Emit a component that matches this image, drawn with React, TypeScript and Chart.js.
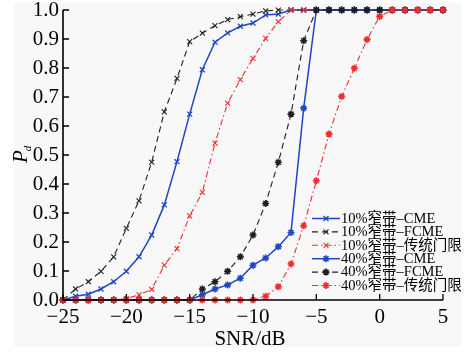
import React, { useEffect, useRef } from "react";
import { Chart, registerables } from "chart.js";

Chart.register(...registerables);

const snrDb = [-25, -24, -23, -22, -21, -20, -19, -18, -17, -16, -15, -14, -13, -12, -11, -10, -9, -8, -7, -6, -5, -4, -3, -2, -1, 0, 1, 2, 3, 4, 5];

const cme10 = [0, 0.013, 0.02, 0.038, 0.063, 0.099, 0.149, 0.224, 0.328, 0.477, 0.641, 0.794, 0.889, 0.921, 0.944, 0.955, 0.983, 0.986, 1, 1, 1, 1, 1, 1, 1, 1, 1, 1, 1, 1, 1];
const fcme10 = [0, 0.038, 0.063, 0.099, 0.149, 0.247, 0.342, 0.475, 0.649, 0.764, 0.891, 0.92, 0.946, 0.967, 0.977, 0.986, 0.997, 1, 1, 1, 1, 1, 1, 1, 1, 1, 1, 1, 1, 1, 1];
const thr10 = [0, 0, 0, 0, 0, 0.005, 0.018, 0.037, 0.12, 0.177, 0.29, 0.371, 0.541, 0.679, 0.76, 0.833, 0.902, 0.96, 1, 1, 1, 1, 1, 1, 1, 1, 1, 1, 1, 1, 1];
const cme40 = [0, 0, 0, 0, 0, 0, 0, 0, 0, 0, 0, 0.018, 0.038, 0.052, 0.075, 0.12, 0.145, 0.184, 0.233, 0.661, 1, 1, 1, 1, 1, 1, 1, 1, 1, 1, 1];
const fcme40 = [0, 0, 0, 0, 0, 0, 0, 0, 0, 0, 0, 0.038, 0.063, 0.099, 0.149, 0.224, 0.333, 0.475, 0.641, 0.894, 1, 1, 1, 1, 1, 1, 1, 1, 1, 1, 1];
const thr40 = [0, 0, 0, 0, 0, 0, 0, 0, 0, 0, 0, 0, 0, 0, 0, 0, 0.013, 0.046, 0.124, 0.256, 0.411, 0.572, 0.702, 0.799, 0.898, 0.978, 1, 1, 1, 1, 1];

const seriesNames = [
  "10%窄带–CME",
  "10%窄带–FCME",
  "10%窄带–传统门限",
  "40%窄带–CME",
  "40%窄带–FCME",
  "40%窄带–传统门限",
];
const xTickValues = [-25, -20, -15, -10, -5, 0, 5];
const xTitle = "SNR/dB";

const BLUE = "#2046c2";
const BLACK = "#1e1e1e";
const RED = "#f02c2c";
const SERIF = '"Liberation Serif", "Times New Roman", serif';
const LEGEND_FONT = '14.5px "Liberation Serif", "Noto Sans CJK SC", serif';

const styles = [
  { color: BLUE, dash: [] as number[], width: 1.5, point: "crossRot", pw: 1.3 },
  { color: BLACK, dash: [6, 4], width: 1.1, point: "crossRot", pw: 1.1 },
  { color: RED, dash: [6, 3, 1.5, 3], width: 1.1, point: "crossRot", pw: 1.1 },
  { color: BLUE, dash: [] as number[], width: 1.5, point: "star", pw: 1.6 },
  { color: BLACK, dash: [6, 4], width: 1.1, point: "star", pw: 1.6 },
  { color: RED, dash: [6, 3, 1.5, 3], width: 1.1, point: "star", pw: 1.6 },
];

const seriesValues = [cme10, fcme10, thr10, cme40, fcme40, thr40];

const bgPlugin = {
  id: "bgPlugin",
  beforeDraw(chart: any) {
    const ctx = chart.ctx;
    ctx.save();
    ctx.fillStyle = "#ffffff";
    ctx.fillRect(0, 0, chart.width, chart.height);
    ctx.fillStyle = "#f8f8f8";
    ctx.fillRect(14, 3, 448, 344);
    ctx.restore();
  },
};

const axesPlugin = {
  id: "axesPlugin",
  afterDatasetsDraw(chart: any) {
    const { ctx, chartArea, scales } = chart;
    const { left, right, top, bottom } = chartArea;
    ctx.save();
    ctx.strokeStyle = "#000";
    ctx.lineWidth = 1.6;
    ctx.setLineDash([]);
    ctx.beginPath();
    ctx.moveTo(left, top);
    ctx.lineTo(left, bottom);
    ctx.lineTo(right, bottom);
    ctx.stroke();
    ctx.lineWidth = 1.3;
    ctx.beginPath();
    scales.y.ticks.forEach((t: any) => {
      const py = scales.y.getPixelForValue(t.value);
      ctx.moveTo(left, py);
      ctx.lineTo(left + 6, py);
    });
    scales.x.ticks.forEach((t: any) => {
      const px = scales.x.getPixelForValue(t.value);
      ctx.moveTo(px, bottom);
      ctx.lineTo(px, bottom - 6);
    });
    ctx.stroke();
    ctx.restore();
  },
};

const decorPlugin = {
  id: "decorPlugin",
  afterDraw(chart: any) {
    const { ctx, chartArea } = chart;
    ctx.save();
    // x title
    ctx.fillStyle = "#000";
    ctx.font = `21px ${SERIF}`;
    ctx.textAlign = "center";
    ctx.textBaseline = "alphabetic";
    ctx.fillText(xTitle, (chartArea.left + chartArea.right) / 2 - 3, 345);
    // y title: P_d
    ctx.save();
    ctx.translate(27, 163);
    ctx.rotate(-Math.PI / 2);
    ctx.textAlign = "left";
    ctx.font = `italic 21px ${SERIF}`;
    ctx.fillText("P", 0, 0);
    const pw = ctx.measureText("P").width;
    ctx.font = `italic 11px ${SERIF}`;
    ctx.fillText("d", pw - 1, 4);
    ctx.restore();
    // legend
    const x0 = 312;
    const x1 = 340;
    const ys0 = 218.5;
    const dy = 13.4;
    chart.data.datasets.forEach((ds: any, i: number) => {
      const st = styles[i];
      const yy = ys0 + dy * i;
      ctx.strokeStyle = st.color;
      ctx.lineWidth = st.width;
      ctx.setLineDash(st.dash);
      ctx.beginPath();
      ctx.moveTo(x0, yy);
      ctx.lineTo(x1, yy);
      ctx.stroke();
      ctx.setLineDash([]);
      ctx.lineWidth = st.pw;
      ctx.beginPath();
      const r = 3.5;
      const d = r * Math.SQRT1_2;
      const cx = (x0 + x1) / 2;
      ctx.moveTo(cx - d, yy - d);
      ctx.lineTo(cx + d, yy + d);
      ctx.moveTo(cx - d, yy + d);
      ctx.lineTo(cx + d, yy - d);
      if (st.point === "star") {
        ctx.moveTo(cx - r, yy);
        ctx.lineTo(cx + r, yy);
        ctx.moveTo(cx, yy - r);
        ctx.lineTo(cx, yy + r);
      }
      ctx.stroke();
      ctx.fillStyle = "#000";
      ctx.font = LEGEND_FONT;
      ctx.textAlign = "left";
      ctx.textBaseline = "middle";
      ctx.fillText(ds.label, x1 + 1, yy + 0.5);
    });
    ctx.restore();
  },
};

export default function App() {
  const canvasRef = useRef<HTMLCanvasElement | null>(null);

  useEffect(() => {
    if (!canvasRef.current) return;
    const datasets = seriesValues.map((vals, i) => {
      const st = styles[i];
      return {
        label: seriesNames[i],
        data: snrDb.map((x, j) => ({ x, y: vals[j] })),
        borderColor: st.color,
        backgroundColor: st.color,
        borderWidth: st.width,
        borderDash: st.dash,
        pointStyle: st.point,
        pointRadius: 3.5,
        pointBorderColor: st.color,
        pointBackgroundColor: st.color,
        pointBorderWidth: st.pw,
        tension: 0,
        fill: false,
        clip: false,
        order: 5 - i,
      };
    });

    const chart = new Chart(canvasRef.current, {
      type: "line",
      data: { datasets } as any,
      options: {
        animation: false,
        responsive: false,
        devicePixelRatio: 1,
        layout: { padding: { left: 0, top: 10, right: 30, bottom: 0 } },
        plugins: {
          legend: { display: false },
          tooltip: { enabled: false },
        },
        scales: {
          x: {
            type: "linear",
            min: -25,
            max: 5,
            afterBuildTicks(scale: any) {
              scale.ticks = xTickValues.map((v) => ({ value: v }));
            },
            afterFit(scale: any) {
              scale.height = 53;
              scale.paddingLeft = 0;
              scale.paddingRight = 0;
            },
            grid: { display: false, drawTicks: false },
            border: { display: false },
            ticks: {
              autoSkip: false,
              maxRotation: 0,
              padding: 5,
              color: "#000",
              font: { family: SERIF, size: 21 },
              callback: (v: any) => (Number(v) < 0 ? "\u2212" + Math.abs(Number(v)) : String(v)),
            },
          },
          y: {
            type: "linear",
            min: 0,
            max: 1,
            afterFit(scale: any) {
              scale.width = 63;
              scale.paddingTop = 0;
              scale.paddingBottom = 0;
            },
            grid: { display: false, drawTicks: false },
            border: { display: false },
            ticks: {
              stepSize: 0.1,
              autoSkip: false,
              padding: 4,
              color: "#000",
              font: { family: SERIF, size: 21 },
              callback: (v: any) => Number(v).toFixed(1),
            },
          },
        },
      } as any,
      plugins: [bgPlugin, axesPlugin, decorPlugin],
    });
    return () => chart.destroy();
  }, []);

  return (
    <div style={{ position: "absolute", left: 0, top: 0, width: 473, height: 353 }}>
      <canvas ref={canvasRef} width={473} height={353} />
    </div>
  );
}
